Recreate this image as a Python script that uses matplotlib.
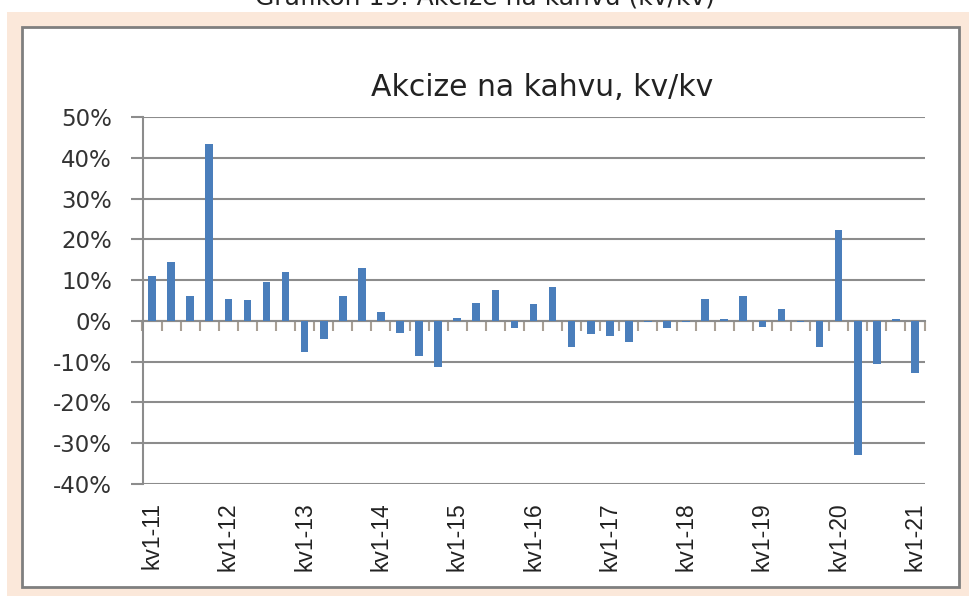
import numpy as np
import matplotlib.pyplot as plt
from matplotlib.patches import Rectangle

# podaci: akcize na kahvu, promjena kv/kv u %
godine = list(range(11, 22))
kvartali = [f'kv{q}-{g}' for g in godine for q in range(1, 5)][:41]
vrijednosti = [11.0, 14.5, 6.0, 43.4, 5.4, 5.1, 9.5, 12.0, -7.6, -4.4,
               6.0, 13.0, 2.3, -2.9, -8.5, -11.3, 0.7, 4.4, 7.5, -1.7,
               4.1, 8.2, -6.4, -3.3, -3.6, -5.2, -0.3, -1.7, -0.3, 5.4,
               0.4, 6.0, -1.4, 3.0, -0.3, -6.4, 22.4, -32.9, -10.5, 0.4, -12.8]
y_ticks = [-40, -30, -20, -10, 0, 10, 20, 30, 40, 50]

W, H = 969, 596
plava = '#4a7ebb'
siva = '#8c8c8c'

fig = plt.figure(figsize=(W / 100, H / 100), dpi=100, facecolor='white')

# pozadina (breskva) i bijeli okvir
fig.patches.append(Rectangle((7 / W, 0), 962 / W, 584 / H, transform=fig.transFigure,
                             facecolor='#fbe8da', edgecolor='none', zorder=-3))
fig.patches.append(Rectangle((22 / W, 9 / H), 937 / W, 560 / H, transform=fig.transFigure,
                             facecolor='white', edgecolor='#7f7f7f', lw=2, zorder=-2))

# naslov iznad okvira, u originalu odrezan na rubu
fig.text(485 / W, 1 - 5 / H, 'Grafikon 19: Akcize na kahvu (kv/kv)', ha='center',
         va='baseline', fontsize=18, color='#222222')

ax = fig.add_axes([142.5 / W, (H - 484) / H, 782 / W, 367 / H])
x = np.arange(len(vrijednosti))
ax.bar(x, vrijednosti, width=0.4, color=plava, zorder=3)

ax.set_xlim(-0.5, len(vrijednosti) - 0.5)
ax.set_ylim(-40, 50)
ax.set_yticks(y_ticks)
ax.set_yticklabels([f'{v}%' for v in y_ticks])
ax.yaxis.grid(True, color=siva, lw=1.5, zorder=0)
ax.tick_params(axis='y', length=9, width=1.5, color=siva, pad=13,
               labelsize=16.5, labelcolor='#333333')

for s in ['top', 'right', 'bottom']:
    ax.spines[s].set_visible(False)
ax.spines['left'].set_color(siva)
ax.spines['left'].set_linewidth(1.5)

ax.set_xticks(x[::4])
ax.set_xticklabels(kvartali[::4], rotation=90, family='Liberation Sans')
ax.tick_params(axis='x', length=0, pad=13, labelsize=16.5, labelcolor='#222222')

# os na nuli s oznakama izmedu kvartala
os0 = ax.secondary_xaxis(40 / 90)
os0.set_xticks(np.arange(-0.5, len(vrijednosti)), labels=[])
os0.tick_params(direction='out', length=7, width=1.5, color='#a89f94')
os0.spines['bottom'].set_color(siva)
os0.spines['bottom'].set_linewidth(1.5)

fig.text(542 / W, 1 - 87 / H, 'Akcize na kahvu, kv/kv', ha='center', va='center',
         fontsize=21.5, color='#222222')

fig.savefig('out.png', dpi=100, facecolor='white')
